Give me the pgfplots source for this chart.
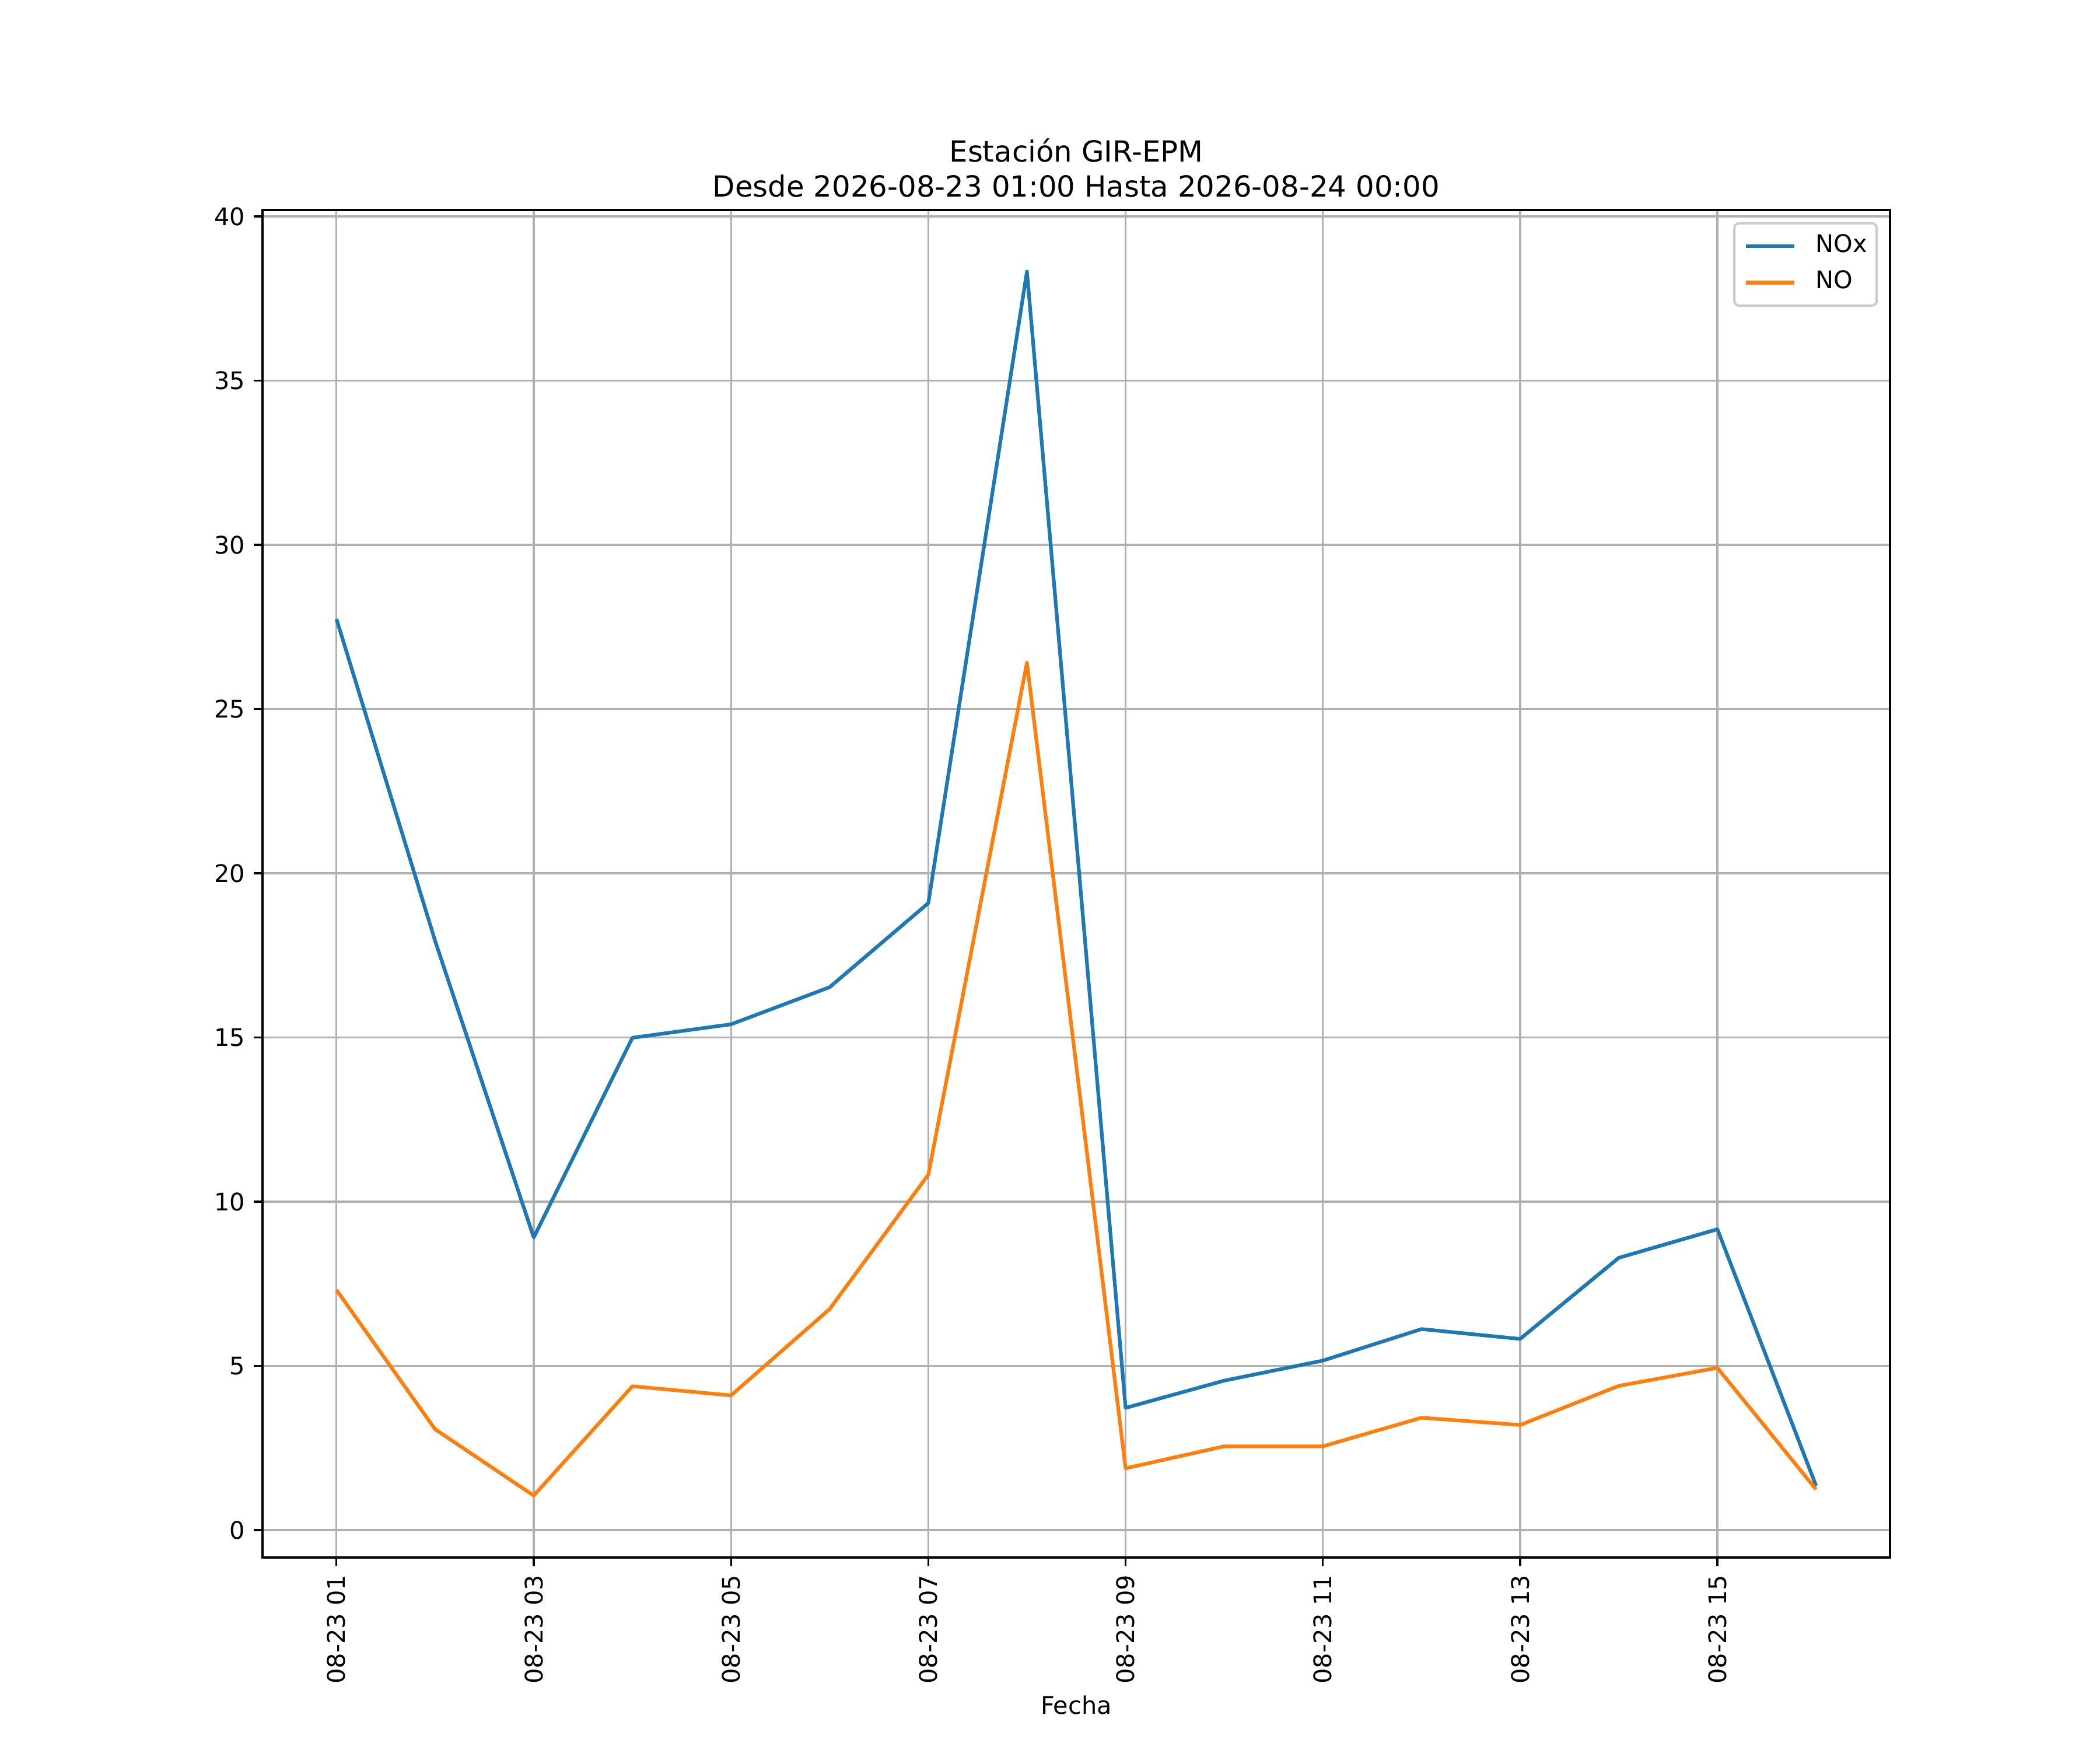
\documentclass[border=0pt]{standalone}
\usepackage{fontspec}
\setmainfont{DejaVu Sans}
\usepackage{pgfplots}
\pgfplotsset{compat=1.18}
\definecolor{mplblue}{HTML}{1F77B4}
\definecolor{mplorange}{HTML}{FF7F0E}
\definecolor{gridgray}{HTML}{B0B0B0}
\definecolor{legendgray}{HTML}{CCCCCC}
\begin{document}
\begin{tikzpicture}
\useasboundingbox (0,0) rectangle (12in,10in);
\begin{axis}[
  at={(1.5in,1.1in)}, anchor=south west,
  width=9.3in, height=7.7in, scale only axis,
  xmin=0.25, xmax=16.75, ymin=-0.835, ymax=40.195,
  xtick={1,3,5,7,9,11,13,15},
  xticklabels={08-23 01,08-23 03,08-23 05,08-23 07,08-23 09,08-23 11,08-23 13,08-23 15},
  ytick={0,5,10,15,20,25,30,35,40},
  tick pos=left, tick align=outside, major tick length=3.5pt,
  tick style={black, line width=0.8pt},
  axis line style={line width=0.8pt},
  grid=major, major grid style={color=gridgray, line width=0.8pt},
  /pgf/number format/assume math mode=true,
  ticklabel style={font=\fontsize{10}{12}\selectfont},
  xticklabel style={rotate=90, anchor=east, inner sep=3.5pt},
  yticklabel style={inner sep=3.5pt},
  title={Estación GIR-EPM\\Desde 2026-08-23 01:00 Hasta 2026-08-24 00:00},
  title style={align=center, font=\fontsize{12}{14.4}\selectfont, at={(0.5,1)}, anchor=south, inner sep=0pt, yshift=-1pt},
  xlabel={Fecha},
  xlabel style={at={(axis description cs:0.5,0)}, anchor=north, inner sep=0pt, yshift=-56.9pt, font=\fontsize{10}{12}\selectfont},
  legend style={at={(1,1)}, anchor=north east, xshift=-5pt, yshift=-5pt,
    draw=legendgray, line width=1pt, rounded corners=2pt,
    inner xsep=4pt, inner ysep=4.5pt, row sep=5pt,
    font=\fontsize{10}{12}\selectfont,
    nodes={inner sep=0pt, text height=7.5pt, text depth=2.5pt},
    /tikz/every odd column/.append style={column sep=8pt}},
  legend cell align=left,
  legend image code/.code={\draw[#1, line width=1.5pt] (0pt,0pt) -- (20pt,0pt);},
]
\addplot[color=mplblue, line width=1.5pt, line join=round] coordinates {
(1,27.74) (2,17.94) (3,8.91) (4,14.99) (5,15.40) (6,16.53) (7,19.09) (8,38.32)
(9,3.72) (10,4.55) (11,5.16) (12,6.12) (13,5.82) (14,8.29) (15,9.16) (16,1.35)
};
\addlegendentry{NOx}
\addplot[color=mplorange, line width=1.5pt, line join=round] coordinates {
(1,7.31) (2,3.07) (3,1.05) (4,4.38) (5,4.10) (6,6.73) (7,10.82) (8,26.41)
(9,1.88) (10,2.55) (11,2.55) (12,3.42) (13,3.20) (14,4.39) (15,4.94) (16,1.24)
};
\addlegendentry{NO}
\end{axis}
\end{tikzpicture}
\end{document}
